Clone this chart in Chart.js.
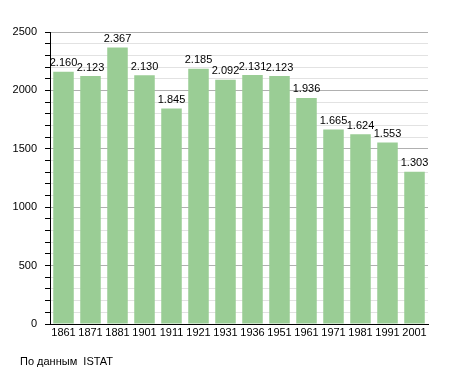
<!DOCTYPE html>
<html>
<head>
<meta charset="utf-8">
<script src="https://cdn.jsdelivr.net/npm/chart.js@4"></script>
<style>
  body { margin: 0; background: #fff; }
  #wrap { position: relative; width: 455px; height: 373px; }
  #source { position: absolute; left: 20px; top: 355px; font: 11px "Liberation Sans", Arial, sans-serif; color: #000; }
</style>
</head>
<body>
<div id="wrap">
  <canvas id="popChart" width="455" height="373"></canvas>
  <div id="source">По данным&nbsp; ISTAT</div>
</div>
<script>
const years = ["1861", "1871", "1881", "1901", "1911", "1921", "1931", "1936", "1951", "1961", "1971", "1981", "1991", "2001"];
const population = [2160, 2123, 2367, 2130, 1845, 2185, 2092, 2131, 2123, 1936, 1665, 1624, 1553, 1303];
const yMax = 2500;

// value labels above bars, Italian thousands separator
const valueLabels = {
  id: "valueLabels",
  afterDatasetsDraw(chart) {
    const ctx = chart.ctx;
    const meta = chart.getDatasetMeta(0);
    ctx.save();
    ctx.font = '11px "Liberation Sans", Arial, sans-serif';
    ctx.fillStyle = "#000";
    ctx.textAlign = "center";
    ctx.textBaseline = "bottom";
    meta.data.forEach((bar, i) => {
      const v = population[i];
      const txt = Math.floor(v / 1000) + "." + String(v % 1000).padStart(3, "0");
      ctx.fillText(txt, bar.x, bar.y - 3);
    });
    ctx.restore();
  }
};

const ctx = document.getElementById("popChart").getContext("2d");
new Chart(ctx, {
  type: "bar",
  data: {
    labels: years,
    datasets: [{
      data: population,
      backgroundColor: "#9acd95",
      borderWidth: 0,
      categoryPercentage: 0.76,
      barPercentage: 1
    }]
  },
  options: {
    responsive: false,
    animation: false,
    layout: { padding: { left: 0, right: 27, top: 32, bottom: 29 } },
    plugins: { legend: { display: false }, tooltip: { enabled: false } },
    font: { family: '"Liberation Sans", Arial, sans-serif' },
    scales: {
      x: {
        grid: { display: false, drawTicks: false },
        border: { color: "#000", width: 1 },
        ticks: {
          color: "#000",
          font: { size: 11, family: '"Liberation Sans", Arial, sans-serif' },
          autoSkip: false,
          maxRotation: 0,
          padding: 2
        },
        afterFit(scale) { scale.height = 20; }
      },
      y: {
        min: 0,
        max: yMax,
        border: { color: "#000", width: 1 },
        grid: {
          color: (c) => (c.tick && c.tick.value % 500 === 0 ? "#b0b0b0" : "#e2e2e2"),
          tickColor: "#000",
          tickLength: 5
        },
        ticks: {
          stepSize: 100,
          autoSkip: false,
          color: "#000",
          padding: 8,
          font: { size: 11, family: '"Liberation Sans", Arial, sans-serif' },
          callback: (v) => (v % 500 === 0 ? v : "")
        },
        afterFit(scale) { scale.width = 50; }
      }
    }
  },
  plugins: [valueLabels]
});
</script>
</body>
</html>
